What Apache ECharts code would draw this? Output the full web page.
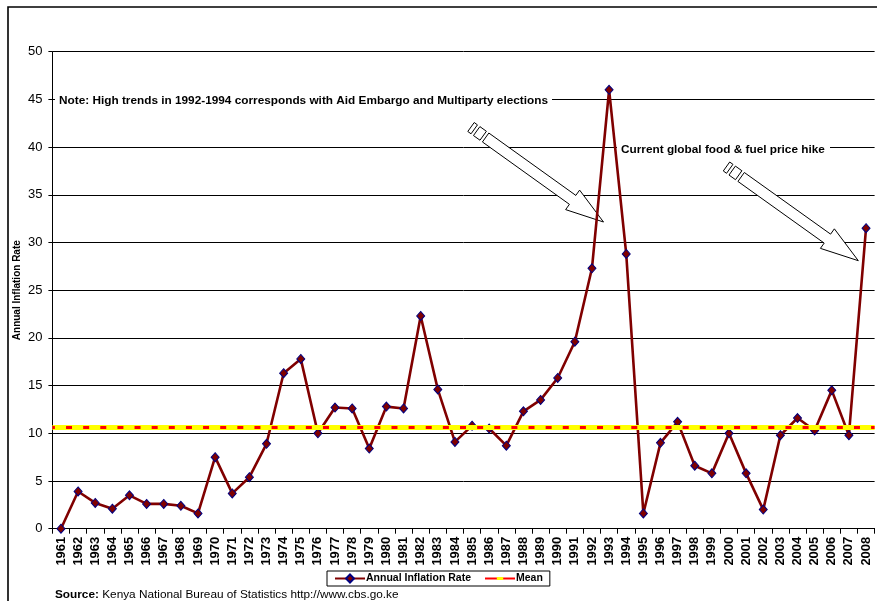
<!DOCTYPE html>
<html>
<head>
<meta charset="utf-8">
<script src="https://cdn.jsdelivr.net/npm/echarts@6.0.0/dist/echarts.min.js"></script>
<style>
html,body{margin:0;padding:0;background:#fff;}
#chart{width:877px;height:601px;}
</style>
</head>
<body>
<div id="chart"></div>
<script>
// ---- data ----
const years = ['1961','1962','1963','1964','1965','1966','1967','1968','1969','1970',
  '1971','1972','1973','1974','1975','1976','1977','1978','1979','1980',
  '1981','1982','1983','1984','1985','1986','1987','1988','1989','1990',
  '1991','1992','1993','1994','1995','1996','1997','1998','1999','2000',
  '2001','2002','2003','2004','2005','2006','2007','2008'];
const inflationRate = [0, 3.9, 2.7, 2.1, 3.5, 2.6, 2.6, 2.4, 1.6, 7.5,
  3.7, 5.4, 8.9, 16.3, 17.8, 10.0, 12.7, 12.6, 8.4, 12.8,
  12.6, 22.3, 14.6, 9.1, 10.8, 10.5, 8.7, 12.3, 13.5, 15.8,
  19.6, 27.3, 46.0, 28.8, 1.6, 9.0, 11.2, 6.6, 5.8, 10.0,
  5.8, 2.0, 9.8, 11.6, 10.3, 14.5, 9.8, 31.5];
const meanValue = 10.6;
const seriesNames = ['Annual Inflation Rate', 'Mean'];
const yAxisTitle = 'Annual Inflation Rate';
const noteText = 'Note: High trends in 1992-1994 corresponds with Aid Embargo and Multiparty elections';
const hikeText = 'Current global food & fuel price hike';
const sourceLabel = 'Source:';
const sourceText = ' Kenya National Bureau of Statistics http://www.cbs.go.ke';

const FONT = '"Liberation Sans", Arial, sans-serif';
const W = 877, H = 601;
const gridLeft = 52.4, gridRight = 2.4, gridTop = 51.7, gridBottom = 72.3;
const catW = (W - gridLeft - gridRight) / years.length;

function stripedArrow(tx, ty, px, py) {
  const dx = px - tx, dy = py - ty;
  const L = Math.sqrt(dx * dx + dy * dy);
  const ux = dx / L, uy = dy / L, vx = -uy, vy = ux;
  const P = (u, v) => [tx + ux * u + vx * v, ty + uy * u + vy * v];
  const hw = 5.5, headL = 38, headW = 12;
  const st = { fill: '#fff', stroke: '#000', lineWidth: 1 };
  return [
    { type: 'polygon', z: 1, shape: { points: [P(0, -hw), P(4, -hw), P(4, hw), P(0, hw)] }, style: st },
    { type: 'polygon', z: 1, shape: { points: [P(7, -hw), P(15, -hw), P(15, hw), P(7, hw)] }, style: st },
    { type: 'polygon', z: 1, shape: { points: [P(18, -hw), P(L - headL, -hw), P(L - headL, -headW), P(L, 0),
        P(L - headL, headW), P(L - headL, hw), P(18, hw)] }, style: st }
  ];
}

const chart = echarts.init(document.getElementById('chart'), null, { renderer: 'canvas' });

const option = {
  backgroundColor: '#fff',
  animation: false,
  textStyle: { fontFamily: FONT },
  grid: { left: gridLeft, right: gridRight, top: gridTop, bottom: gridBottom, containLabel: false, outerBoundsMode: 'none' },
  legend: {
    data: seriesNames,
    left: 327, top: 571,
    orient: 'horizontal',
    padding: [2, 7, 2, 7],
    itemGap: 13,
    itemWidth: 30,
    itemHeight: 10,
    borderColor: '#000',
    borderWidth: 1,
    borderRadius: 0,
    backgroundColor: '#fff',
    selectedMode: false,
    textStyle: { fontFamily: FONT, fontWeight: 'bold', fontSize: 10.5, color: '#000', padding: [0, 0, 0, -4] }
  },
  xAxis: {
    type: 'category',
    data: years,
    boundaryGap: true,
    axisLine: { show: true, lineStyle: { color: '#000', width: 1 } },
    axisTick: { show: true, length: 5, lineStyle: { color: '#000' } },
    axisLabel: { rotate: 90, interval: 0, margin: 8, fontFamily: FONT, fontWeight: 'bold', fontSize: 13, color: '#000' },
    splitLine: { show: false }
  },
  yAxis: {
    type: 'value',
    min: 0, max: 50, interval: 5,
    name: yAxisTitle,
    nameLocation: 'middle',
    nameGap: 30,
    nameMoveOverlap: false,
    nameTextStyle: { fontFamily: FONT, fontWeight: 'bold', fontSize: 10, color: '#000' },
    axisLine: { show: true, lineStyle: { color: '#000', width: 1 } },
    axisTick: { show: true, inside: false, length: 4, lineStyle: { color: '#000' } },
    axisLabel: { margin: 10, fontFamily: FONT, fontSize: 13, color: '#000' },
    splitLine: { show: true, lineStyle: { color: '#000', width: 1 } }
  },
  series: [
    {
      name: seriesNames[0],
      type: 'line',
      data: inflationRate,
      z: 4,
      symbol: 'diamond',
      symbolSize: [8, 9],
      showAllSymbol: true,
      clip: false,
      lineStyle: { color: '#800000', width: 2.6 },
      itemStyle: { color: '#800000', borderColor: '#000080', borderWidth: 1 }
    },
    {
      name: seriesNames[1],
      type: 'line',
      data: [],
      z: 3,
      symbol: 'path://M0,0M1,3.2L9,3.2L9,6.8L1,6.8ZM10,10',
      lineStyle: { color: '#ff0000', width: 4 },
      itemStyle: { color: '#ffff00', borderWidth: 0 },
      markLine: {
        silent: true,
        symbol: ['none', 'none'],
        label: { show: false },
        animation: false,
        data: [
          { yAxis: meanValue, lineStyle: { color: '#ffff00', width: 5, type: 'solid' } },
          { yAxis: meanValue, lineStyle: { color: '#ff0000', width: 3, type: [6, catW - 6], dashOffset: 3.5 } }
        ]
      }
    }
  ],
  graphic: [
    { type: 'rect', z: 0, silent: true, shape: { x: 8, y: 7, width: 1000, height: 1000 },
      style: { fill: 'none', stroke: '#000', lineWidth: 1.6 } },
    { type: 'rect', z: 1, shape: { x: 55, y: 94, width: 497, height: 14 }, style: { fill: '#fff' } },
    { type: 'text', z: 1, x: 59, y: 101, style: { text: noteText, font: 'bold 11.8px ' + FONT, fill: '#000', align: 'left', verticalAlign: 'middle' } },
    { type: 'rect', z: 1, shape: { x: 617, y: 143, width: 213, height: 14 }, style: { fill: '#fff' } },
    { type: 'text', z: 1, x: 621, y: 150, style: { text: hikeText, font: 'bold 11.8px ' + FONT, fill: '#000', align: 'left', verticalAlign: 'middle' } },
    ...stripedArrow(471, 127, 603.5, 222),
    ...stripedArrow(726.5, 166.5, 858.3, 260.7),
    { type: 'text', z: 1, x: 55, y: 595, style: {
        text: '{b|' + sourceLabel + '}{n|' + sourceText + '}',
        rich: { b: { font: 'bold 11.8px ' + FONT, fill: '#000' }, n: { font: '11.8px ' + FONT, fill: '#000' } },
        verticalAlign: 'middle' } }
  ]
};
chart.setOption(option);
</script>
</body>
</html>
